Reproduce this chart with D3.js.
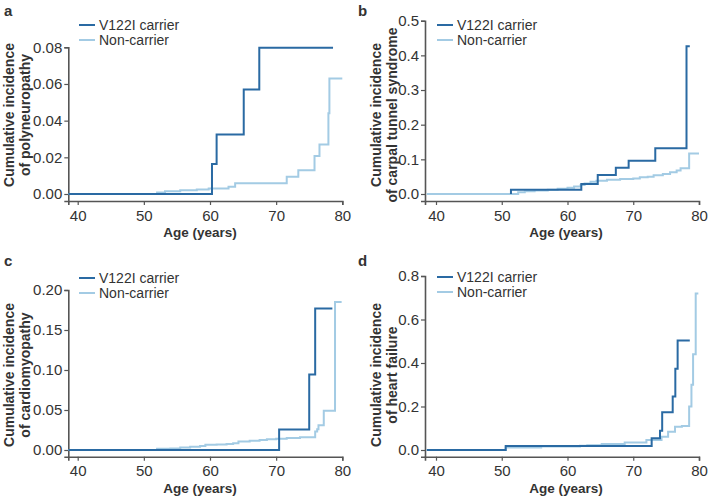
<!DOCTYPE html>
<html><head><meta charset="utf-8">
<script src="https://cdn.jsdelivr.net/npm/d3@7"></script>
<style>
body{margin:0;background:#fff;}
svg text{font-family:"Liberation Sans",Arial,sans-serif;fill:#333;}
</style></head>
<body><svg id="c" width="708" height="499"></svg>
<script>
// ---- data ----
const seriesNames = ["V122I carrier", "Non-carrier"];
const xTicks = [40, 50, 60, 70, 80];
const panelLetters = ["a", "b", "c", "d"];
const yTitles = [
  ["Cumulative incidence", "of polyneuropathy"],
  ["Cumulative incidence", "of carpal tunnel syndrome"],
  ["Cumulative incidence", "of cardiomyopathy"],
  ["Cumulative incidence", "of heart failure"]
];
const yTicksA = [0, 0.02, 0.04, 0.06, 0.08];
const yTicksB = [0, 0.1, 0.2, 0.3, 0.4, 0.5];
const yTicksC = [0, 0.05, 0.10, 0.15, 0.20];
const yTicksD = [0, 0.2, 0.4, 0.6, 0.8];

const aCarrier = [[38.6,0],[60.3,0.0163],[61.0,0.0325],[65.1,0.0570],[67.45,0.0797],[78.6,0.0797]];
const aNon = [[38.6,0],[52.0,0.0008],[53.2,0.0015],[55.5,0.002],[58.0,0.0025],[59.8,0.003],[62.8,0.004],[63.8,0.0058],[71.6,0.0094],[73.35,0.013],[75.8,0.0207],[76.55,0.027],[77.9,0.044],[78.05,0.063],[80,0.063]];

const bCarrier = [[51.4,0],[51.4,0.012],[62.1,0.029],[64.6,0.055],[67.35,0.076],[69.3,0.096],[73.35,0.132],[78.1,0.426],[78.6,0.426]];
const bNon = [[38.6,0],[52.5,0.005],[53.5,0.008],[55,0.01],[57,0.012],[58.5,0.015],[60,0.018],[61,0.022],[62,0.026],[62.6,0.03],[63.5,0.035],[64.4,0.038],[66,0.041],[68,0.043],[70,0.045],[71,0.048],[72.2,0.05],[73.1,0.054],[74.5,0.058],[75.6,0.063],[76.6,0.068],[77.2,0.074],[78.5,0.117],[80,0.117]];

const cCarrier = [[38.6,0],[70.45,0.0255],[75.0,0.0945],[75.9,0.177],[78.5,0.177]];
const cNon = [[38.6,0],[52,0.0015],[54,0.002],[55.5,0.003],[57,0.004],[58.5,0.005],[59.3,0.0065],[61,0.007],[62.5,0.0075],[63.5,0.0085],[64.3,0.0105],[66,0.0115],[67.5,0.0125],[68.6,0.0135],[70,0.014],[71.6,0.015],[73.6,0.016],[75.9,0.023],[76.2,0.026],[76.4,0.031],[77.2,0.049],[78.9,0.185],[79.9,0.185]];

const dCarrier = [[38.6,0],[50.6,0.018],[72.8,0.054],[74.07,0.088],[74.4,0.173],[76.0,0.246],[76.4,0.374],[76.75,0.503],[78.6,0.503]];
const dNon = [[38.6,0],[50.6,0.012],[56,0.016],[61.9,0.02],[63,0.022],[65.2,0.028],[68.7,0.035],[72.0,0.046],[74.3,0.061],[75.3,0.084],[76.35,0.107],[77.4,0.11],[78.5,0.2],[78.85,0.3],[79.1,0.44],[79.5,0.72],[79.9,0.72]];

// ---- layout ----
const colors = {carrier: "#2a6aa3", non: "#a3cbe4"};
const layout = [
  {ox:0,   oy:0,   x40:77.7, x80:342.3, xLeft:68.3, y0:194, yTop:47.3, yMax:0.08, yBottom:201, fmt:".2f", ticks:yTicksA, titleX:200, carrier:aCarrier, non:aNon, legX:79, legY:25},
  {ox:354, oy:0,   x40:82,   x80:345,   xLeft:71,   y0:194, yTop:20.7, yMax:0.5,  yBottom:201, fmt:".1f", ticks:yTicksB, titleX:212, carrier:bCarrier, non:bNon, legX:83, legY:25},
  {ox:0,   oy:250, x40:77.7, x80:342.3, xLeft:68.3, y0:200, yTop:40,   yMax:0.20, yBottom:206.7, fmt:".2f", ticks:yTicksC, titleX:200, carrier:cCarrier, non:cNon, legX:79, legY:28},
  {ox:354, oy:250, x40:82,   x80:345,   xLeft:71,   y0:200, yTop:26,   yMax:0.8,  yBottom:206.7, fmt:".1f", ticks:yTicksD, titleX:212, carrier:dCarrier, non:dNon, legX:83, legY:27}
];

const svg = d3.select("#c");
layout.forEach((p, i) => {
  const g = svg.append("g").attr("transform", `translate(${p.ox},${p.oy})`);
  const x0 = d3.scaleLinear().domain([40, 80]).range([p.x40, p.x80]);
  const x = d3.scaleLinear().domain([x0.invert(p.xLeft), 80]).range([p.xLeft, p.x80]);
  const y0 = d3.scaleLinear().domain([0, p.yMax]).range([p.y0, p.yTop]);
  const y = d3.scaleLinear().domain([y0.invert(p.yBottom), p.yMax]).range([p.yBottom, p.yTop]);

  // axes
  const xa = g.append("g").attr("transform", `translate(0,${p.yBottom})`)
    .call(d3.axisBottom(x).tickValues(xTicks).tickSizeOuter(0).tickSize(4).tickPadding(5));
  const ya = g.append("g").attr("transform", `translate(${p.xLeft},0)`)
    .call(d3.axisLeft(y).tickValues(p.ticks).tickFormat(d3.format(p.fmt)).tickSizeOuter(0).tickSize(4).tickPadding(2));
  [xa, ya].forEach(a => {
    a.select(".domain").attr("stroke", "#555").attr("stroke-width", 1.6);
    a.selectAll(".tick line").attr("stroke", "#555").attr("stroke-width", 1.2);
    a.selectAll(".tick text").attr("font-size", 15).attr("fill", "#333")
      .style("font-family", '"Liberation Sans",Arial,sans-serif');
  });

  // lines
  const line = d3.line().x(d => x(d[0])).y(d => y(d[1])).curve(d3.curveStepAfter);
  g.append("path").datum(p.non).attr("d", line).attr("fill", "none")
    .attr("stroke", colors.non).attr("stroke-width", 2);
  g.append("path").datum(p.carrier).attr("d", line).attr("fill", "none")
    .attr("stroke", colors.carrier).attr("stroke-width", 2);

  // legend
  [colors.carrier, colors.non].forEach((c, k) => {
    const ly = p.legY + k * 15;
    g.append("line").attr("x1", p.legX).attr("x2", p.legX + 16).attr("y1", ly).attr("y2", ly)
      .attr("stroke", c).attr("stroke-width", 2);
    g.append("text").attr("x", p.legX + 20).attr("y", ly + 5).attr("font-size", 14)
      .text(seriesNames[k]);
  });

  // panel letter
  g.append("text").attr("x", 4).attr("y", 15.5).attr("font-size", 15).attr("font-weight", "bold")
    .attr("fill", "#222").text(panelLetters[i]);

  // x title
  g.append("text").attr("x", p.titleX).attr("y", 236.5 + (p.oy ? 6 : 0)).attr("text-anchor", "middle")
    .attr("font-size", 13.5).attr("font-weight", "bold").attr("fill", "#333").text("Age (years)");

  // y title
  const tcx = (i % 2 === 0) ? 0 : 13;
  const tcy = (p.oy ? 125 : 115);
  yTitles[i].forEach((t, k) => {
    const bx = tcx + 14 + k * 16;
    g.append("text").attr("transform", `translate(${bx},${tcy}) rotate(-90)`)
      .attr("text-anchor", "middle").attr("font-size", 14).attr("font-weight", "bold")
      .attr("fill", "#333").text(t);
  });
});
</script></body></html>
